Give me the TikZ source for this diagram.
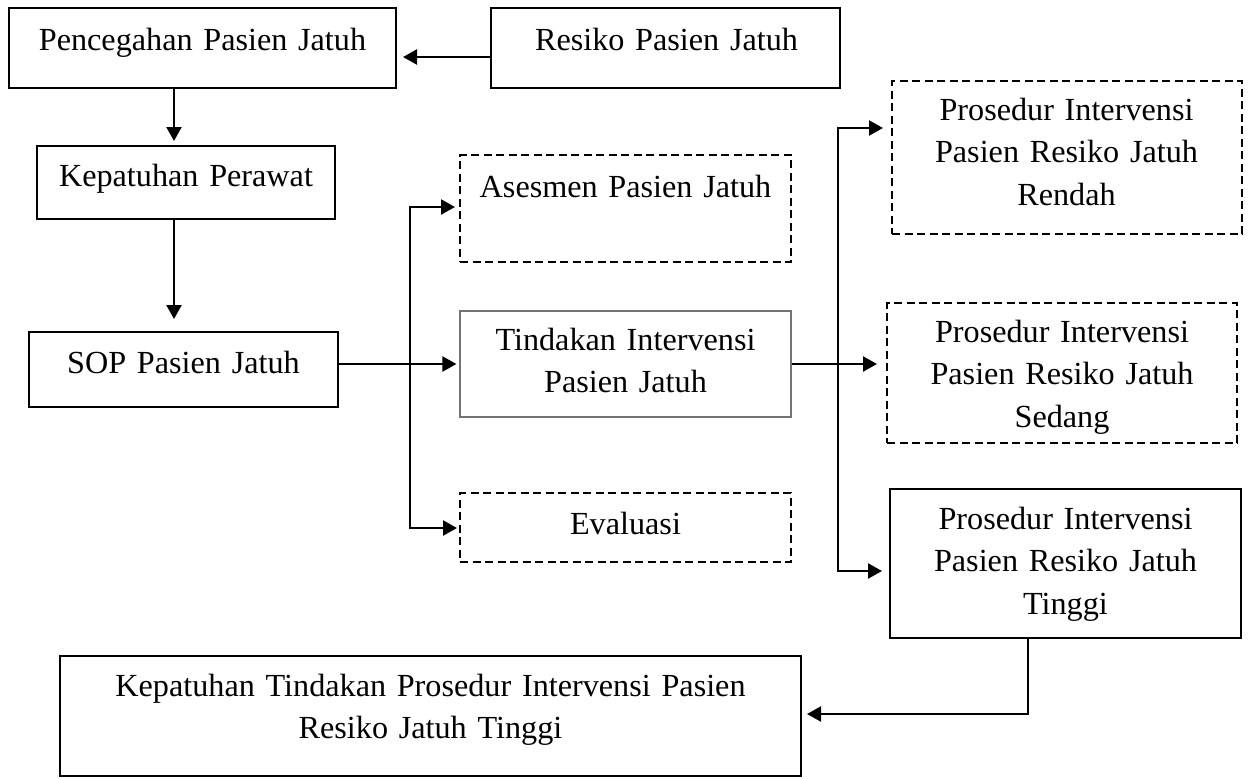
\documentclass[tikz,border=0pt]{standalone}
\usepackage{fontspec}
\setmainfont{Liberation Serif}
\usetikzlibrary{arrows.meta,calc}
\begin{document}
\begin{tikzpicture}[x=0.5pt,y=-0.5pt,
  box/.style={draw, line width=1pt, inner sep=0pt, rectangle},
  dbox/.style={box, dash pattern=on 4pt off 2.25pt},
  tbox/.style={draw=black!55, line width=0.6pt, inner sep=0pt, rectangle},
  txt/.style={anchor=base, inner sep=0pt, align=center, text width=#1, font=\fontsize{16.1}{21.3}\selectfont},
  txt/.default=200pt,
  conn/.style={line width=1.1pt, -{Triangle[length=7pt,width=7.5pt]}},
  wire/.style={line width=1.1pt}]
\useasboundingbox (0,0) rectangle (1249,778);

% boxes
\node[box,  minimum width=193.5pt, minimum height=40pt]   (p1)   at (202.5,48) {};
\node[box,  minimum width=174.5pt, minimum height=40pt]   (res)  at (665.5,48) {};
\node[box,  minimum width=149pt,   minimum height=36.5pt] (kp)   at (186,182.5) {};
\node[box,  minimum width=154.5pt, minimum height=37.5pt] (sop)  at (183.5,369.5) {};
\node[dbox, minimum width=165.5pt, minimum height=53.5pt] (ases) at (625.5,208.5) {};
\node[tbox, minimum width=165.5pt, minimum height=53pt]   (tind) at (625.5,364) {};
\node[dbox, minimum width=165.5pt, minimum height=34.5pt] (eval) at (625.5,527.5) {};
\node[dbox, minimum width=175pt,   minimum height=76.5pt] (rend) at (1067,157.5) {};
\node[dbox, minimum width=175pt,   minimum height=70pt]   (sed)  at (1062,373) {};
\node[box,  minimum width=175.5pt, minimum height=74.5pt] (ting) at (1065.5,563.5) {};
\node[box,  minimum width=370.5pt, minimum height=60pt]   (kt)   at (430.5,716) {};

% texts
\node[txt] (tp1)   at (202.5,50)  {Pencegahan Pasien Jatuh};
\node[txt] (tres)  at (666.5,50)  {Resiko Pasien Jatuh};
\node[txt] (tkp)   at (186,186)   {Kepatuhan Perawat};
\node[txt] (tsop)  at (183.5,373) {SOP Pasien Jatuh};
\node[txt] (tases) at (625.5,197) {Asesmen Pasien Jatuh};
\node[txt] (ttind) at (625.5,350) {Tindakan Intervensi\\Pasien Jatuh};
\node[txt] (teval) at (625.5,534) {Evaluasi};
\node[txt] (trend) at (1066.5,120) {Prosedur Intervensi\\Pasien Resiko Jatuh\\Rendah};
\node[txt] (tsed)  at (1062,342)  {Prosedur Intervensi\\Pasien Resiko Jatuh\\Sedang};
\node[txt] (tting) at (1065.5,529) {Prosedur Intervensi\\Pasien Resiko Jatuh\\Tinggi};
\node[txt=360pt] (tkt) at (430.5,696) {Kepatuhan Tindakan Prosedur Intervensi Pasien\\Resiko Jatuh Tinggi};

% junctions
\coordinate (j1) at (410,364);
\coordinate (j2) at (838,364);

% connectors
\draw[conn] (res.west |- 0,57) -- ([xshift=3pt]p1.east |- 0,57);
\draw[conn] (p1.south -| 174,0) -- ([yshift=2pt]kp.north -| 174,0);
\draw[conn] (kp.south -| 174,0) -- ([yshift=6pt]sop.north -| 174,0);
\draw[wire] (sop.east |- j1) -- (j1);
\draw[conn] (j1) -- ([xshift=-1.5pt]tind.west);
\draw[conn] (j1) |- ([xshift=-2pt]ases.west |- 0,207);
\draw[conn] (j1) |- ([xshift=-1pt]eval.west |- 0,528);
\draw[wire] (tind.east) -- (j2);
\draw[conn] (j2) -- ([xshift=-4.5pt]sed.west |- j2);
\draw[conn] (j2) |- ([xshift=-4pt]rend.west |- 0,128);
\draw[conn] (j2) |- ([xshift=-3.5pt]ting.west |- 0,571);
\draw[conn] (ting.south -| 1028,0) |- ([xshift=2.5pt]kt.east |- 0,714);
\end{tikzpicture}
\end{document}
